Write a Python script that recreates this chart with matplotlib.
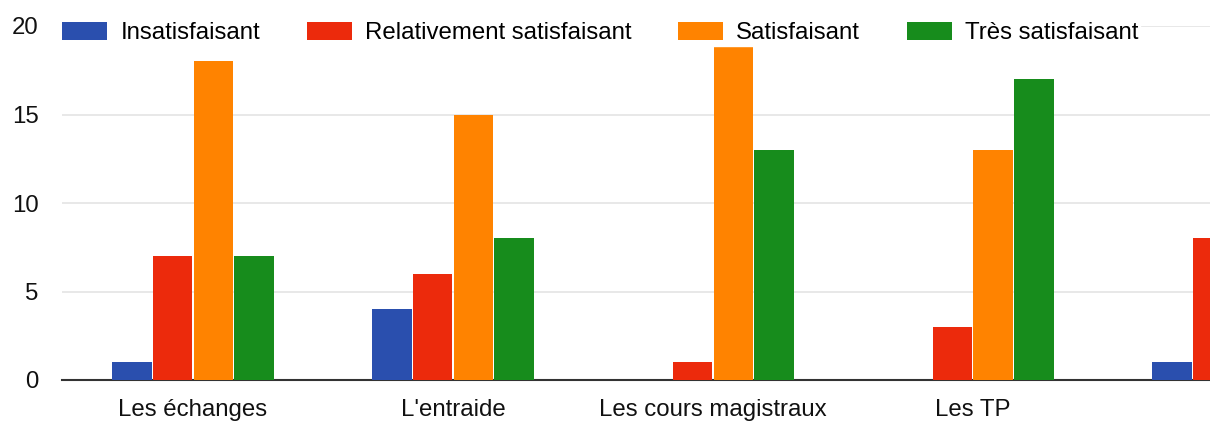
import numpy as np
import matplotlib.pyplot as plt

# ─── Data ─────────────────────────────────────────────────────────────────────

categories = ["Les échanges", "L'entraide", "Les cours magistraux", "Les TP", ""]
series     = ["Insatisfaisant", "Relativement satisfaisant",
              "Satisfaisant", "Très satisfaisant"]
# 5th group is cut off by the scan: only blue and red are visible
insatisfaisant = [1, 4, 0, 0, 1]
relativement   = [7, 6, 1, 3, 8]
satisfaisant   = [18, 15, 19, 13, np.nan]
tres_satisf    = [7, 8, 13, 17, np.nan]
yticks = [0, 5, 10, 15, 20]

colors = ["#2a4fae", "#ec2a0c", "#ff8300", "#178c1c"]

# ─── Plot ─────────────────────────────────────────────────────────────────────

plt.rcParams["font.family"] = ["Liberation Sans", "DejaVu Sans"]
fs = 17.3

fig = plt.figure(figsize=(12.1, 4.21), dpi=100)
ax = fig.add_axes([62 / 1210, 41 / 421, 1 - 62 / 1210, 354 / 421])

x = np.arange(len(categories))
w = 0.152
step = 0.1565
for i, (vals, name) in enumerate(zip(
        [insatisfaisant, relativement, satisfaisant, tres_satisf], series)):
    ax.bar(x + (i - 1.5) * step, vals, width=w, color=colors[i],
           label=name, zorder=3)

ax.set_xlim(-0.504, 3.912)
ax.set_ylim(0, 20)
ax.set_yticks(yticks)
ax.set_xticks(x[:4])
ax.set_xticklabels(categories[:4])
ax.tick_params(axis="both", length=0, labelsize=fs, colors="#111111")
ax.tick_params(axis="y", pad=17)
ax.tick_params(axis="x", pad=14)
ax.grid(axis="y", color="#e4e4e4", linewidth=1.2, zorder=0)
for s in ["top", "right", "left"]:
    ax.spines[s].set_visible(False)
ax.spines["bottom"].set_color("#333333")
ax.spines["bottom"].set_linewidth(1.5)

leg = fig.legend(loc="center left", bbox_to_anchor=(60 / 1210, 1 - 33 / 421),
                 ncol=4, frameon=True, fontsize=fs, handlelength=1.87,
                 handleheight=0.75, handletextpad=0.54, columnspacing=1.95,
                 borderpad=0.1, borderaxespad=0)
leg.get_frame().set_edgecolor("white")
leg.get_frame().set_facecolor("white")
leg.get_frame().set_alpha(1)

fig.savefig("out.png", dpi=100)
